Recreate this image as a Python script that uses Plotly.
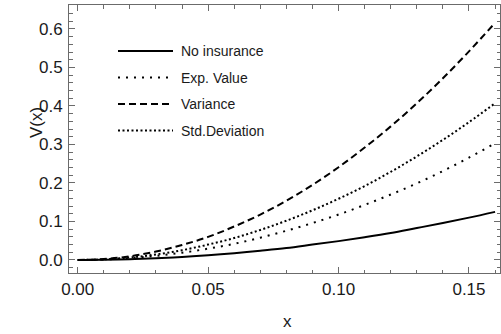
import plotly.graph_objects as go

# ---- data ----
x_vals = [0.00, 0.01, 0.02, 0.03, 0.04, 0.05, 0.06, 0.07, 0.08,
          0.09, 0.10, 0.11, 0.12, 0.13, 0.14, 0.15, 0.16]
no_insurance = [0.0, 0.0005, 0.002, 0.0044, 0.0078, 0.0122, 0.0176, 0.024, 0.031,
                0.040, 0.049, 0.059, 0.070, 0.083, 0.096, 0.110, 0.125]
exp_value = [0.0, 0.0012, 0.0047, 0.0106, 0.0189, 0.0295, 0.042, 0.058, 0.076,
             0.096, 0.118, 0.143, 0.170, 0.199, 0.231, 0.266, 0.303]
variance = [0.0, 0.0024, 0.0096, 0.022, 0.039, 0.060, 0.087, 0.118, 0.154,
            0.195, 0.241, 0.292, 0.347, 0.407, 0.472, 0.542, 0.616]
std_dev = [0.0, 0.0016, 0.0064, 0.0143, 0.0254, 0.040, 0.057, 0.078, 0.102,
           0.129, 0.159, 0.192, 0.229, 0.269, 0.312, 0.358, 0.407]

series_names = ["No insurance", "Exp. Value", "Variance", "Std.Deviation"]
series_values = [no_insurance, exp_value, variance, std_dev]
x_tick_vals = [0.00, 0.05, 0.10, 0.15]
x_tick_text = ["0.00", "0.05", "0.10", "0.15"]
y_tick_vals = [0.0, 0.1, 0.2, 0.3, 0.4, 0.5, 0.6]
y_tick_text = ["0.0", "0.1", "0.2", "0.3", "0.4", "0.5", "0.6"]

# ---- styles ----
dashes = ["solid", "2px,6px", "7px,4px", "2px,2.5px"]
FONT = "Liberation Sans, Arial, sans-serif"
FRAME = "#6b6b6b"

fig = go.Figure()
for name, vals, dash in zip(series_names, series_values, dashes):
    fig.add_trace(go.Scatter(
        x=x_vals, y=vals, mode="lines", name=name,
        line=dict(color="black", width=2, dash=dash, shape="spline"),
        showlegend=False,
    ))

axis_common = dict(
    showline=True, linecolor=FRAME, linewidth=1, mirror="ticks",
    ticks="inside", ticklen=6, tickwidth=1, tickcolor=FRAME,
    showgrid=False, zeroline=False,
    tickfont=dict(family=FONT, size=17, color="#1a1a1a"),
)
fig.update_xaxes(range=[-0.00334, 0.16189], tickvals=x_tick_vals, ticktext=x_tick_text,
                 minor=dict(dtick=0.01, ticks="inside", ticklen=3.5, tickcolor=FRAME, showgrid=False),
                 ticklabelstandoff=1, **axis_common)
fig.update_yaxes(range=[-0.0338, 0.6623], tickvals=y_tick_vals, ticktext=y_tick_text,
                 minor=dict(dtick=0.02, ticks="inside", ticklen=3.5, tickcolor=FRAME, showgrid=False),
                 ticklabelstandoff=2, **axis_common)

# ---- legend drawn inside the frame (upper left) ----
L, R, T, B, W, H = 69, 1, 5, 61, 501, 334
pw, ph = W - L - R, H - T - B
def px(xp):
    return (xp - L) / pw
def py(yp):
    return (H - B - yp) / ph

row_y = [51, 77.5, 104, 130.5]
for name, dash, ry in zip(series_names, dashes, row_y):
    fig.add_shape(type="line", xref="paper", yref="paper",
                  x0=px(118), x1=px(173), y0=py(ry), y1=py(ry),
                  line=dict(color="black", width=2, dash=dash))
    fig.add_annotation(xref="paper", yref="paper", x=px(179), y=py(ry),
                       text=name, showarrow=False, xanchor="left", yanchor="middle",
                       font=dict(family=FONT, size=14, color="#1a1a1a"))

fig.add_annotation(xref="paper", yref="paper", x=px(36), y=py(123), text="V(x)",
                   textangle=-90, showarrow=False, xanchor="center", yanchor="middle",
                   font=dict(family=FONT, size=17, color="#1a1a1a"))
fig.add_annotation(xref="paper", yref="paper", x=px(287), y=py(321), text="x",
                   showarrow=False, xanchor="center", yanchor="middle",
                   font=dict(family=FONT, size=17, color="#1a1a1a"))

fig.update_layout(
    width=W, height=H,
    margin=dict(l=L, r=R, t=T, b=B),
    paper_bgcolor="white", plot_bgcolor="white",
    showlegend=False,
)

fig.write_html("out.html")
